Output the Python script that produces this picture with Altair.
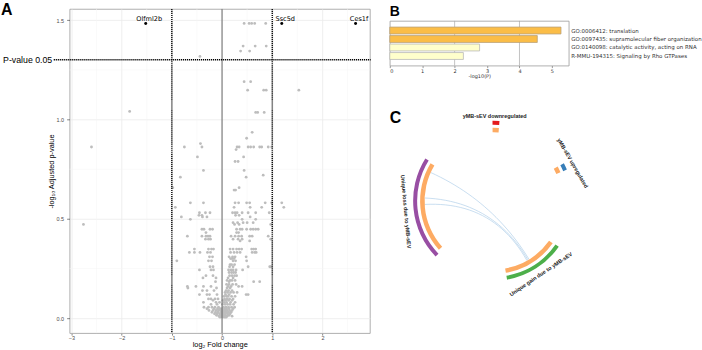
import altair as alt
import pandas as pd

FONT = "Liberation Sans"
SMALL_FONT = "DejaVu Sans"

# ---------------- Panel A: volcano plot ----------------
ROW_NEGLOG10_PADJ = [
    1.484, 1.370, 1.345, 1.318, 1.191, 1.148, 1.041, 1.036, 0.936, 0.906,
    0.879, 0.862, 0.849, 0.812, 0.789, 0.744, 0.720, 0.710, 0.657, 0.645,
    0.581, 0.558, 0.531, 0.518, 0.510, 0.498, 0.481, 0.472, 0.448, 0.431,
    0.413, 0.398, 0.389, 0.348, 0.331, 0.309, 0.300, 0.289, 0.270, 0.259,
    0.243, 0.230, 0.214, 0.203, 0.190, 0.184, 0.170, 0.160, 0.152, 0.139,
    0.130, 0.119, 0.110, 0.097, 0.090, 0.080, 0.070, 0.055, 0.048, 0.039,
    0.030, 0.022, 0.015, 0.010, 0.005,
]
ROW_LOG2FC = [
    [0.44, 0.54, 0.59, 0.65, 0.87],
    [0.42, 0.66, 0.88],
    [0.37, 0.55],
    [-0.44],
    [0.44, 0.57],
    [0.51, 0.83, 0.88, 1.53],
    [-1.84],
    [0.67, 0.71, 0.84],
    [0.60],
    [0.49],
    [-0.43],
    [-2.60, -0.75, -0.40, 0.30, 0.34, 0.52, 0.57, 0.63, 0.75, 0.79, 0.92, 0.99],
    [0.28],
    [-0.49, 0.43],
    [0.26, 0.32],
    [-0.37, 0.44],
    [0.82],
    [-0.83, 0.48],
    [-0.98, 0.34],
    [0.24, 0.27],
    [-0.63, -0.37, 0.26, 0.33, 0.49, 0.55, 0.86, 0.99, 1.19],
    [-0.93, 0.24, 0.56, 0.79, 1.23],
    [-0.45, -0.33, -0.24, 0.21, 0.26, 0.30, 0.40, 0.52, 0.67, 0.94],
    [-0.46, -0.40, 0.27, 0.34],
    [-0.81, -0.39, -0.30, 0.56],
    [-0.63, 0.40, 0.67],
    [0.22, 0.31, 0.42, 0.50, 0.62],
    [-2.76, 0.25, 0.34, 0.97],
    [-0.40, -0.36, -0.24, -0.19, 0.29, 0.36, 0.40, 0.49, 0.57, 0.62, 0.67, 0.72],
    [-0.32, 0.29, 0.33],
    [-0.69, -0.40, -0.32, -0.28, -0.24, 0.18, 0.26, 0.33, 0.39, 0.55, 0.60, 0.92],
    [-0.33, -0.27, -0.23, 0.22, 0.32, 0.40, 0.97],
    [0.36, 0.55],
    [-0.55, -0.27, -0.21, -0.17, 0.16, 0.22, 0.29, 0.34, 0.39, 0.59, 0.63, 0.67],
    [-0.65, -0.55, -0.44, -0.29, -0.23, 0.17, 0.24, 0.30, 0.36, 0.60, 0.65, 0.68],
    [-0.25, -0.19, 0.14, 0.21, 0.26, 0.48],
    [0.17, 0.20, 0.24],
    [-0.90, -0.27, -0.21, 0.22, 0.27, 0.49],
    [0.16, 0.19, 0.25],
    [-0.24, -0.18, 0.15, 0.22, 0.52, 0.95, 0.97],
    [-0.45, -0.22, -0.17, 0.13, 0.18, 0.22, 0.28, 0.41],
    [0.14, 0.19, 0.23, 0.27],
    [-0.32, -0.18, 0.15, 0.20, 0.25, 0.29],
    [-0.38, -0.12, 0.12, 0.22],
    [0.10, 0.16, 0.20, 0.26],
    [-0.13, 0.14, 0.63, 0.75],
    [0.09, 0.14, 0.21, 0.28],
    [-0.69, -0.52, -0.37, -0.22, 0.12, 0.18, 0.33, 0.40],
    [-0.68, -0.11, 0.10, 0.16],
    [-0.39, -0.30, -0.16, 0.08, 0.13, 0.20],
    [0.06, 0.11, 0.17, 0.23, 0.30],
    [-0.45, -0.30, -0.25, -0.10, 0.07, 0.14, 0.48, 0.52],
    [0.04, 0.09, 0.12, 0.19, 0.26],
    [-0.27, -0.22, -0.14, -0.08, 0.05, 0.10, 0.15, 0.22],
    [-0.18, 0.02, 0.07, 0.13, 0.20],
    [-0.37, -0.12, -0.05, 0.04, 0.09, 0.17, 0.26],
    [-0.22, -0.10, 0.01, 0.06, 0.11, 0.16, 0.23],
    [-0.36, -0.27, -0.20, -0.14, -0.07, 0.03, 0.08, 0.13, 0.19, 0.25],
    [-0.30, -0.16, -0.09, -0.04, 0.0, 0.05, 0.09, 0.14, 0.22],
    [-0.26, -0.18, -0.12, -0.07, -0.03, 0.02, 0.06, 0.10, 0.15, 0.20],
    [-0.20, -0.13, -0.08, -0.02, 0.02, 0.06, 0.09, 0.13, 0.18],
    [-0.15, -0.10, -0.05, -0.01, 0.03, 0.07, 0.11, 0.16],
    [-0.11, -0.03, 0.02, 0.06, 0.14],
    [-0.06, 0.0, 0.04, 0.10, 0.20],
    [-0.04, 0.01, 0.05, 0.08],
]

LABEL_GENES = ["Olfml2b", "Ssc5d", "Ces1f"]
LABEL_LOG2FC = [-1.52, 1.19, 2.66]
LABEL_NEGLOG10_PADJ = [1.484, 1.484, 1.484]

A_X_DOMAIN = [-3.036, 2.945]
A_Y_DOMAIN = [-0.075, 1.557]
A_X_TICKS = [-3, -2, -1, 0, 1, 2]
A_Y_TICKS = [0.0, 0.5, 1.0, 1.5]
A_X_MINOR = [-2.5, -1.5, -0.5, 0.5, 1.5, 2.5]
A_Y_MINOR = [0.25, 0.75, 1.25]
ZERO_LINE = [0]
FC_CUTOFFS = [-1, 1]
P_CUTOFF = 1.301  # -log10(0.05)
P_LINE_FROM = -3.352
P_LINE_TO = 2.96
P_CUTOFF_LABEL = "P-value 0.05"
PANEL_LETTERS = ["A", "B", "C"]

# ---------------- Panel B: enrichment bars ----------------
TERMS = [
    "GO:0006412: translation",
    "GO:0097435: supramolecular fiber organization",
    "GO:0140098: catalytic activity, acting on RNA",
    "R-MMU-194315: Signaling by Rho GTPases",
]
NEGLOG10P = [5.28, 4.55, 2.77, 2.27]
BAR_FILL = ["#fbbd47", "#fbbd47", "#ffffcc", "#ffffcc"]
BAR_EDGE = ["#b9a27a", "#b9a27a", "#b8b8b8", "#b8b8b8"]
B_X_DOMAIN = [0, 5.52]
B_X_TICKS = [0, 1, 2, 3, 4, 5]
B_GRID = [2, 4]

# ---------------- Panel C: circos ----------------
SECTORS = [
    "Unique loss due to yMB-sEV",
    "yMB-sEV downregulated",
    "yMB-sEV upregulated",
    "Unique gain due to yMB-sEV",
]
SECTOR_START = [226, -0.5, 62, 125]
SECTOR_END = [302, 4.5, 67, 170]
SECTOR_COLOR = ["#984ea3", "#e41a1c", "#377eb8", "#4daf4a"]
TRACK_START = [228, -0.5, 62, 125.5]
TRACK_END = [301, 4.5, 67, 170]
TRACK_COLOR = ["#fdab63", "#fdab63", "#fdab63", "#fdab63"]
LABEL_ANGLE = [263, 1, 64.6, 146.9]
LABEL_RADIUS = [88.3, 85, 88.6, 87.8]
LABEL_ROTATION = [85, 0, 60, 326]
CHORD_ID = ["c1", "c2", "c3"]
CHORD_FROM = [294.4, 272.4, 267.0]
CHORD_TO = [148.5, 149.5, 150.5]
CHORD_RADIUS = 69
C_X_DOMAIN = [-104, 206]
C_Y_DOMAIN = [-146, 109]

# =============== build panel A ===============
fc, pv = [], []
for yv, xs in zip(ROW_NEGLOG10_PADJ, ROW_LOG2FC):
    for xv in xs:
        fc.append(xv)
        pv.append(yv)
pts = pd.DataFrame({"log2fc": fc, "padj": pv})

ax_scale = alt.Scale(domain=A_X_DOMAIN, nice=False, zero=False)
ay_scale = alt.Scale(domain=A_Y_DOMAIN, nice=False, zero=False)

axis_common = dict(
    grid=True, gridColor="#ebebeb", gridWidth=0.8, domain=False,
    tickColor="#333333", tickWidth=0.6,
    labelFont=FONT, labelFontSize=5.5, labelColor="#4d4d4d",
    titleFont=FONT, titleFontSize=7.4, titleFontWeight="normal", titleColor="#000000",
)

a_points = alt.Chart(pts).mark_circle(size=8, color="#bdbdbd", opacity=1).encode(
    x=alt.X("log2fc:Q", scale=ax_scale,
            axis=alt.Axis(values=A_X_TICKS, tickSize=2, labelPadding=0, titlePadding=0,
                          title="log₂ Fold change", **axis_common)),
    y=alt.Y("padj:Q", scale=ay_scale,
            axis=alt.Axis(values=A_Y_TICKS, format=".1f", tickSize=3, labelPadding=3,
                          titlePadding=1, title="-log₁₀ Adjusted p-value", **axis_common)),
)

a_minor_x = alt.Chart(pd.DataFrame({"log2fc": A_X_MINOR})).mark_rule(
    color="#f4f4f4", strokeWidth=0.5).encode(x="log2fc:Q")
a_minor_y = alt.Chart(pd.DataFrame({"padj": A_Y_MINOR})).mark_rule(
    color="#f4f4f4", strokeWidth=0.5).encode(y="padj:Q")

a_zero = alt.Chart(pd.DataFrame({"log2fc": ZERO_LINE})).mark_rule(
    color="#666666", strokeWidth=1).encode(x="log2fc:Q")

a_fc = alt.Chart(pd.DataFrame({"log2fc": FC_CUTOFFS})).mark_rule(
    color="#000000", strokeWidth=1.4, strokeDash=[1.2, 0.8]).encode(x="log2fc:Q")

a_p = alt.Chart(pd.DataFrame({"padj": [P_CUTOFF], "x1": [P_LINE_FROM], "x2": [P_LINE_TO]})).mark_rule(
    color="#000000", strokeWidth=1.4, strokeDash=[1.2, 0.8]).encode(
    x="x1:Q", x2="x2:Q", y="padj:Q")

a_p_text = alt.Chart(pd.DataFrame({"padj": [P_CUTOFF], "x1": [P_LINE_FROM], "t": [P_CUTOFF_LABEL]})).mark_text(
    align="right", baseline="middle", dx=-1.5, dy=0.5, font=FONT, fontSize=8.8, color="#000000").encode(
    x="x1:Q", y="padj:Q", text="t:N")

genes = pd.DataFrame({"gene": LABEL_GENES, "log2fc": LABEL_LOG2FC, "padj": LABEL_NEGLOG10_PADJ})
a_gene_pts = alt.Chart(genes).mark_circle(size=9, color="#000000", opacity=1).encode(
    x="log2fc:Q", y="padj:Q")
a_gene_txt = alt.Chart(genes).mark_text(
    align="center", baseline="middle", dx=3.5, dy=-4.5, font=SMALL_FONT, fontSize=6.6,
    color="#000000").encode(x="log2fc:Q", y="padj:Q", text="gene:N")

a_letter = alt.Chart(pd.DataFrame({"t": [PANEL_LETTERS[0]]})).mark_text(
    align="left", baseline="top", font=FONT, fontSize=16, fontWeight="bold", color="#000000").encode(
    x=alt.value(-69), y=alt.value(-7), text="t:N")

panel_a = alt.layer(
    a_minor_x, a_minor_y, a_points, a_zero, a_fc, a_p, a_gene_pts, a_gene_txt, a_p_text, a_letter
).properties(width=302, height=326)

# =============== build panel B ===============
b_df = pd.DataFrame({"term": TERMS, "value": NEGLOG10P, "fill": BAR_FILL, "edge": BAR_EDGE})
bx_scale = alt.Scale(domain=B_X_DOMAIN, nice=False, zero=True)
b_x_axis = alt.Axis(values=B_X_TICKS, format="d", grid=False, domain=False,
                    tickSize=2, tickColor="#555555", tickWidth=0.6, labelOverlap=False,
                    labelFont=SMALL_FONT, labelFontSize=5, labelColor="#333333", labelPadding=0.5,
                    title="-log10(P)", titleFont=SMALL_FONT, titleFontSize=5,
                    titleFontWeight="normal", titleColor="#333333", titlePadding=0.5)

b_grid = alt.Chart(pd.DataFrame({"value": B_GRID})).mark_rule(
    color="#a8a8a8", strokeWidth=0.7).encode(x=alt.X("value:Q", scale=bx_scale, axis=b_x_axis))

b_bars = alt.Chart(b_df).mark_bar(strokeWidth=0.8).encode(
    x=alt.X("value:Q", scale=bx_scale, axis=b_x_axis),
    y=alt.Y("term:N", sort=TERMS, scale=alt.Scale(paddingInner=0.19, paddingOuter=0.73),
            axis=alt.Axis(orient="right", ticks=False, domain=False, labelAlign="left",
                          labelPadding=2, labelFont=SMALL_FONT, labelFontSize=5.5,
                          labelColor="#333333", labelLimit=0, title=None)),
    fill=alt.Fill("fill:N", scale=None),
    stroke=alt.Stroke("edge:N", scale=None),
)

panel_b = alt.layer(b_grid, b_bars).properties(width=180, height=45)

b_head = alt.Chart(pd.DataFrame({"t": [PANEL_LETTERS[1]]})).mark_text(
    align="left", baseline="top", font=FONT, fontSize=14, fontWeight="bold", color="#000000").encode(
    x=alt.value(0), y=alt.value(-4), text="t:N"
).properties(width=180, height=10, view=alt.ViewBackground(stroke="transparent"))

# =============== build panel C ===============
cx_scale = alt.Scale(domain=C_X_DOMAIN, nice=False, zero=False)
cy_scale = alt.Scale(domain=C_Y_DOMAIN, nice=False, zero=False)
theta_scale = alt.Scale(domain=[0, 360], range=[0, 6.283185307179586], nice=False, zero=False)

center_x = alt.XDatum(0, type="quantitative", scale=cx_scale, axis=None)
center_y = alt.YDatum(0, type="quantitative", scale=cy_scale, axis=None)

sec_df = pd.DataFrame({"name": SECTORS, "start": SECTOR_START, "end": SECTOR_END, "color": SECTOR_COLOR})
trk_df = pd.DataFrame({"start": TRACK_START, "end": TRACK_END, "color": TRACK_COLOR})

c_outer = alt.Chart(sec_df).mark_arc(radius=80.5, radius2=76.5).encode(
    theta=alt.Theta("start:Q", scale=theta_scale, stack=False),
    theta2="end:Q",
    fill=alt.Fill("color:N", scale=None),
    x=center_x, y=center_y,
)
c_inner = alt.Chart(trk_df).mark_arc(radius=73.5, radius2=69).encode(
    theta=alt.Theta("start:Q", scale=theta_scale, stack=False),
    theta2="end:Q",
    fill=alt.Fill("color:N", scale=None),
    x=center_x, y=center_y,
)

chord_df = pd.DataFrame({"id": CHORD_ID, "a1": CHORD_FROM, "a2": CHORD_TO})
R = CHORD_RADIUS
c_chords = alt.Chart(chord_df).transform_calculate(
    t="sequence(0, 1.0001, 0.04)"
).transform_flatten(["t"]).transform_calculate(
    px=f"pow(1-datum.t,2)*{R}*sin(datum.a1*PI/180) + pow(datum.t,2)*{R}*sin(datum.a2*PI/180)",
    py=f"pow(1-datum.t,2)*{R}*cos(datum.a1*PI/180) + pow(datum.t,2)*{R}*cos(datum.a2*PI/180)",
).mark_line(color="#a9cbe8", strokeWidth=0.8, opacity=0.8).encode(
    x=alt.X("px:Q", scale=cx_scale, axis=None),
    y=alt.Y("py:Q", scale=cy_scale, axis=None),
    detail="id:N",
    order="t:Q",
)

lab_df = pd.DataFrame({"name": SECTORS, "ang": LABEL_ANGLE, "r": LABEL_RADIUS, "rot": LABEL_ROTATION})
c_labels = alt.Chart(lab_df).transform_calculate(
    lx="datum.r*sin(datum.ang*PI/180)",
    ly="datum.r*cos(datum.ang*PI/180)",
).mark_text(font=FONT, fontSize=5.5, fontWeight="bold", color="#222222",
            align="center", baseline="middle").encode(
    x=alt.X("lx:Q", scale=cx_scale, axis=None),
    y=alt.Y("ly:Q", scale=cy_scale, axis=None),
    text="name:N",
    angle=alt.Angle("rot:Q", scale=None),
)

c_letter = alt.Chart(pd.DataFrame({"t": [PANEL_LETTERS[2]]})).mark_text(
    align="left", baseline="top", font=FONT, fontSize=16, fontWeight="bold", color="#000000").encode(
    x=alt.value(0), y=alt.value(18), text="t:N")

panel_c = alt.layer(c_chords, c_inner, c_outer, c_labels, c_letter).properties(
    width=310, height=255, view=alt.ViewBackground(stroke="transparent"))

top_right = alt.vconcat(b_head, panel_b, spacing=0)
right = alt.vconcat(top_right, panel_c, spacing=12)
chart = alt.hconcat(panel_a, right, spacing=17).properties(
    padding={"left": 0, "top": 0, "right": 0, "bottom": 0}
).configure(font=FONT).configure_view(stroke="#9a9a9a", strokeWidth=0.8)

chart.save("out.html", embed_options={"renderer": "svg", "actions": False})
